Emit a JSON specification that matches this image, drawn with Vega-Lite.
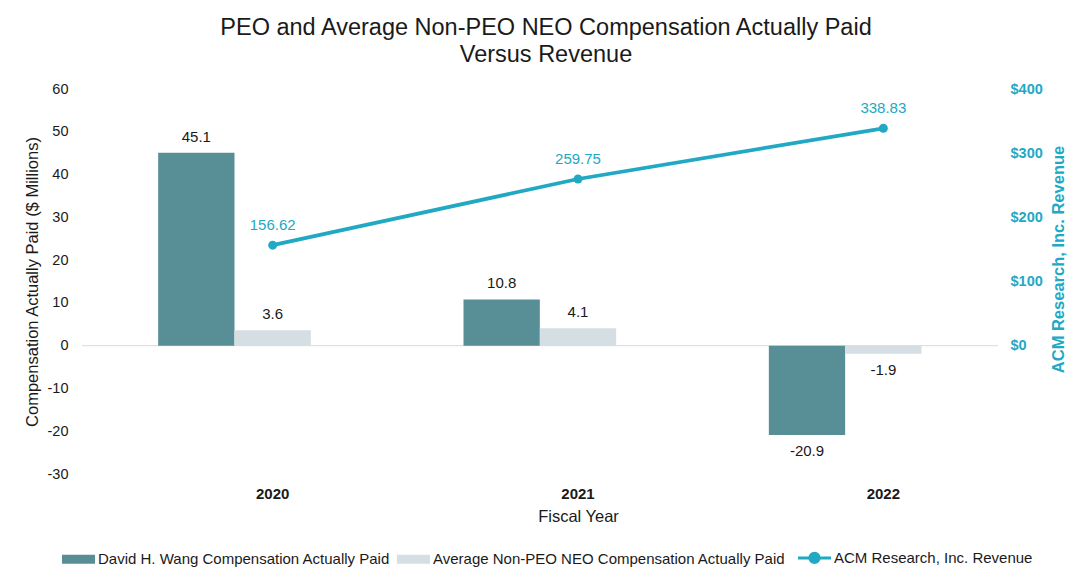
{
  "$schema": "https://vega.github.io/schema/vega-lite/v6.json",
  "width": 916,
  "height": 385,
  "autosize": {"type": "none"},
  "padding": {"left": 82, "top": 89, "right": 94, "bottom": 110},
  "background": "white",
  "config": {
    "font": "Liberation Sans",
    "view": {"stroke": null},
    "axis": {"grid": false, "ticks": false, "domain": false}
  },
  "title": {
    "text": ["PEO and Average Non-PEO NEO Compensation Actually Paid", "Versus Revenue"],
    "fontSize": 23.5,
    "fontWeight": "normal",
    "color": "#1a1a1a",
    "anchor": "middle",
    "offset": 15,
    "lineHeight": 27,
    "dx": 6
  },
  "datasets": {
    "bars": [
      {"year": "2020", "series": "David H. Wang Compensation Actually Paid", "value": 45.1},
      {"year": "2020", "series": "Average Non-PEO NEO Compensation Actually Paid", "value": 3.6},
      {"year": "2021", "series": "David H. Wang Compensation Actually Paid", "value": 10.8},
      {"year": "2021", "series": "Average Non-PEO NEO Compensation Actually Paid", "value": 4.1},
      {"year": "2022", "series": "David H. Wang Compensation Actually Paid", "value": -20.9},
      {"year": "2022", "series": "Average Non-PEO NEO Compensation Actually Paid", "value": -1.9}
    ],
    "revenue": [
      {"year": "2020", "revenue": 156.62},
      {"year": "2021", "revenue": 259.75},
      {"year": "2022", "revenue": 338.83}
    ]
  },
  "layer": [
    {
      "data": {"name": "bars"},
      "layer": [
        {
          "data": {"values": [{"zero": 0}]},
          "mark": {"type": "rule", "color": "#D9D9D9", "strokeWidth": 1},
          "encoding": {"y": {"field": "zero", "type": "quantitative"}}
        },
        {
          "mark": {"type": "bar"},
          "encoding": {
            "x": {
              "field": "year", "type": "nominal",
              "scale": {"type": "band", "range": [38, 954], "paddingInner": 0, "paddingOuter": 0},
              "axis": {"title": "Fiscal Year", "labelAngle": 0, "labelFontWeight": "bold", "labelFontSize": 15, "labelPadding": 12, "labelColor": "#1a1a1a", "titleFontSize": 16.5, "titleFontWeight": "normal", "titlePadding": 7, "titleColor": "#1a1a1a"}
            },
            "xOffset": {
              "field": "series", "type": "nominal",
              "scale": {"domain": ["David H. Wang Compensation Actually Paid", "Average Non-PEO NEO Compensation Actually Paid", "pad"], "paddingInner": 0, "paddingOuter": 0.5}
            },
            "y": {
              "field": "value", "type": "quantitative",
              "scale": {"domain": [-30, 60], "nice": false, "zero": false},
              "axis": {"orient": "left", "title": "Compensation Actually Paid ($ Millions)", "values": [-30, -20, -10, 0, 10, 20, 30, 40, 50, 60], "labelExpr": "toString(datum.value)", "labelFontSize": 14.5, "labelPadding": 14, "labelColor": "#1a1a1a", "titleFontSize": 16.5, "titleFontWeight": "normal", "titlePadding": 7, "titleColor": "#1a1a1a"}
            },
            "color": {
              "field": "series", "type": "nominal",
              "scale": {"domain": ["David H. Wang Compensation Actually Paid", "Average Non-PEO NEO Compensation Actually Paid", "ACM Research, Inc. Revenue"], "range": ["#588F97", "#D5DFE3", "#21A9C4"]},
              "legend": {
                "orient": "none",
                "legendX": -11,
                "legendY": 461,
                "direction": "horizontal",
                "title": null,
                "labelFontSize": 15,
                "labelColor": "#1a1a1a",
                "labelLimit": 600,
                "symbolSize": 1089,
                "labelOffset": 12,
                "columnPadding": 6,
                "encode": {
                  "symbols": {
                    "update": {
                      "shape": {"signal": "datum.value === 'ACM Research, Inc. Revenue' ? 'M-1,0H1M-0.28,0A0.28,0.28,0,1,1,0.28,0A0.28,0.28,0,1,1,-0.28,0' : 'M-1,-0.27H1V0.27H-1Z'"},
                      "fill": {"scale": "color", "field": "value"},
                      "stroke": {"scale": "color", "field": "value"},
                      "strokeWidth": {"signal": "datum.value === 'ACM Research, Inc. Revenue' ? 3 : 0"},
                      "size": {"value": 1089},
                      "opacity": {"value": 1},
                      "fillOpacity": {"value": 1}
                    }
                  }
                }
              }
            }
          }
        },
        {
          "transform": [{"filter": "datum.value >= 0"}],
          "mark": {"type": "text", "baseline": "bottom", "dy": -8, "fontSize": 15, "color": "#1a1a1a"},
          "encoding": {
            "x": {"field": "year", "type": "nominal"},
            "xOffset": {"field": "series", "type": "nominal"},
            "y": {"field": "value", "type": "quantitative"},
            "text": {"field": "value", "type": "nominal"}
          }
        },
        {
          "transform": [{"filter": "datum.value < 0"}],
          "mark": {"type": "text", "baseline": "top", "dy": 9, "fontSize": 15, "color": "#1a1a1a"},
          "encoding": {
            "x": {"field": "year", "type": "nominal"},
            "xOffset": {"field": "series", "type": "nominal"},
            "y": {"field": "value", "type": "quantitative"},
            "text": {"field": "value", "type": "nominal"}
          }
        }
      ]
    },
    {
      "data": {"name": "revenue"},
      "layer": [
        {
          "mark": {"type": "line", "strokeWidth": 3.8, "point": {"filled": true, "size": 80, "color": "#21A9C4", "opacity": 1}},
          "encoding": {
            "x": {"field": "year", "type": "nominal"},
            "y": {
              "field": "revenue", "type": "quantitative",
              "scale": {"domain": [-200, 400], "nice": false, "zero": false},
              "axis": {"orient": "right", "title": "ACM Research, Inc. Revenue", "values": [0, 100, 200, 300, 400], "format": "$.0f", "labelFontSize": 14.5, "labelFontWeight": "bold", "labelColor": "#21A9C4", "labelPadding": 12, "titleFontSize": 16.5, "titleFontWeight": "bold", "titleColor": "#21A9C4", "titleAngle": 270, "titlePadding": 24, "titleY": 170}
            },
            "color": {"datum": "ACM Research, Inc. Revenue", "type": "nominal"}
          }
        },
        {
          "mark": {"type": "text", "baseline": "bottom", "dy": -12, "fontSize": 15, "color": "#21A9C4"},
          "encoding": {
            "x": {"field": "year", "type": "nominal"},
            "y": {"field": "revenue", "type": "quantitative"},
            "text": {"field": "revenue", "type": "nominal"}
          }
        }
      ]
    }
  ],
  "resolve": {"scale": {"y": "independent"}}
}
